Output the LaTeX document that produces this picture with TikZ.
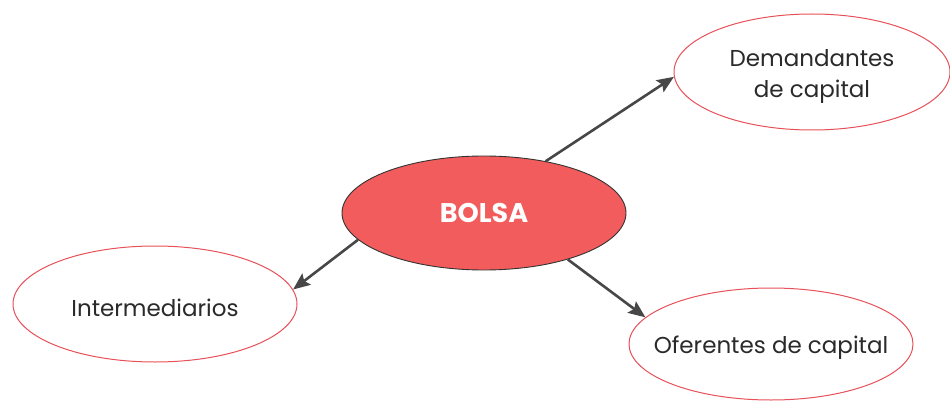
\documentclass[tikz,border=0pt]{standalone}
\usepackage{fontspec}
\setmainfont{Poppins}
\usetikzlibrary{shapes.geometric,arrows.meta}
\definecolor{bolsared}{HTML}{F25C5C}
\definecolor{rimred}{HTML}{E8505A}
\definecolor{arrowgray}{HTML}{474747}
\definecolor{txtgray}{HTML}{2A2A2A}
\tikzset{
  hub/.style={ellipse, draw=black!80, line width=0.9pt, fill=bolsared, minimum width=284pt, minimum height=114pt, inner sep=0pt},
  target/.style={ellipse, draw=rimred, line width=1pt, fill=white, inner sep=0pt},
  tlabel/.style={text=txtgray, font=\fontsize{23}{31}\selectfont, align=center, yshift=-4pt},
  arr/.style={draw=arrowgray, line width=2.6pt, -{Stealth[length=17pt,width=14pt,inset=3pt]}}
}
\begin{document}
\begin{tikzpicture}[x=1pt,y=-1pt]
\useasboundingbox (0,0) rectangle (950,401);
\node[hub] (bolsa) at (484,213) {};
\node[text=white, font=\fontsize{27}{30}\selectfont\bfseries] (bolsatxt) at (bolsa.center) {BOLSA};
\node[target, minimum width=276pt, minimum height=116pt] (dem) at (812,72) {};
\node[tlabel] (demtxt) at (dem.center) {Demandantes\\de capital};
\node[target, minimum width=284pt, minimum height=116pt] (inter) at (155,304) {};
\node[tlabel] (intertxt) at (inter.center) {Intermediarios};
\node[target, minimum width=284pt, minimum height=112pt] (ofe) at (771,344) {};
\node[tlabel] (ofetxt) at (ofe.center) {Oferentes de capital};
\draw[arr] (bolsa.40) -- (dem.182);
\draw[arr] (bolsa.192) -- (inter.6.5);
\draw[arr] (bolsa.331) -- (ofe.168.6);
\end{tikzpicture}
\end{document}
